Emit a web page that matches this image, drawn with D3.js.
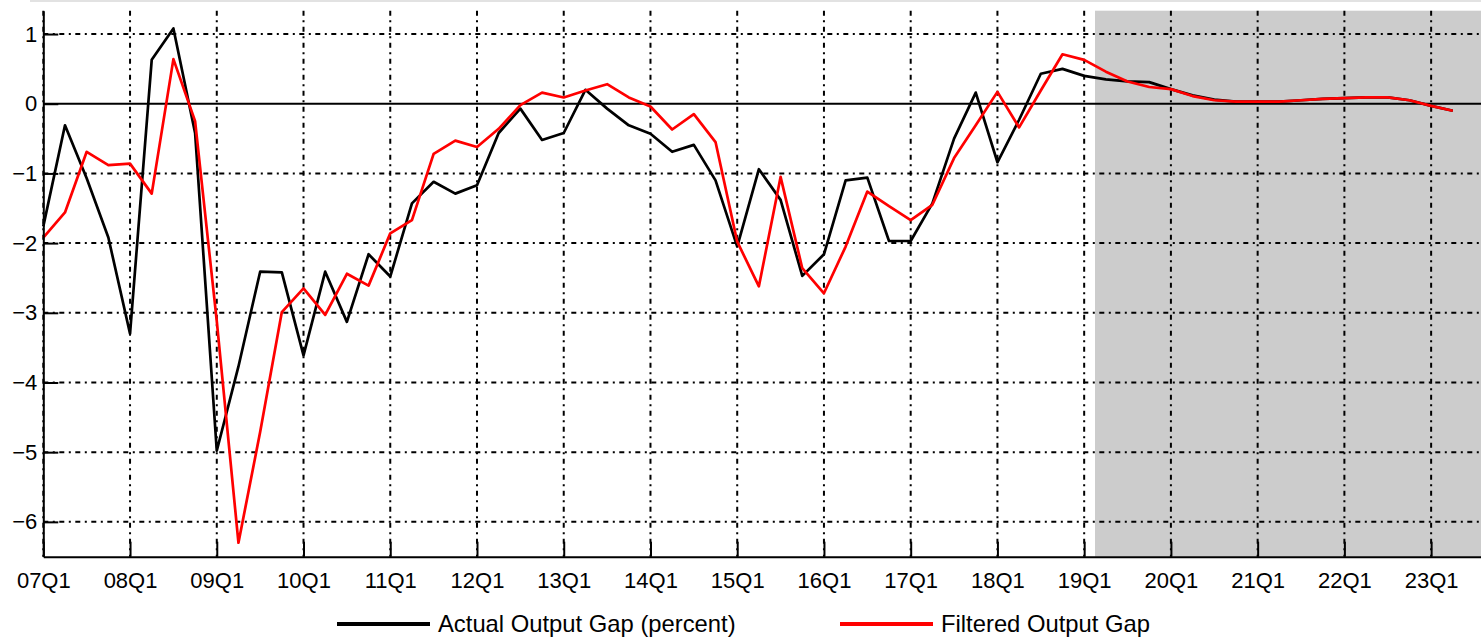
<!DOCTYPE html>
<html>
<head>
<meta charset="utf-8">
<script src="https://cdn.jsdelivr.net/npm/d3@7"></script>
<style>
  body { margin: 0; background: #fff; }
  svg text { font-family: "Liberation Sans", Arial, sans-serif; fill: #000; }
</style>
</head>
<body>
<svg class="s2" width="1481" height="639"></svg>
<script>

// year tick labels, one per Q1
var tickLabels = ["07Q1","08Q1","09Q1","10Q1","11Q1","12Q1","13Q1","14Q1","15Q1",
                  "16Q1","17Q1","18Q1","19Q1","20Q1","21Q1","22Q1","23Q1"];

var yTicks = [1, 0, -1, -2, -3, -4, -5, -6];

// quarterly values starting at 07Q1
var actualGap = [-1.76,-0.31,-1.07,-1.92,-3.30,0.63,1.08,-0.42,
                 -4.98,-3.77,-2.41,-2.42,-3.61,-2.41,-3.13,-2.16,
                 -2.48,-1.43,-1.12,-1.29,-1.17,-0.42,-0.07,-0.52,
                 -0.42,0.20,-0.07,-0.31,-0.43,-0.69,-0.59,-1.10,
                 -2.05,-0.94,-1.38,-2.47,-2.16,-1.10,-1.06,-1.97,
                 -1.97,-1.43,-0.50,0.16,-0.84,-0.23,0.43,0.50,
                 0.40,0.35,0.32,0.31,0.21,0.12,0.06,0.03,
                 0.03,0.03,0.05,0.07,0.08,0.09,0.09,0.05,
                 -0.03,-0.10];

var filteredGap = [-1.92,-1.56,-0.69,-0.88,-0.86,-1.29,0.64,-0.25,
                   -3.12,-6.30,-4.71,-2.99,-2.65,-3.03,-2.44,-2.61,
                   -1.86,-1.67,-0.72,-0.53,-0.62,-0.36,-0.02,0.16,
                   0.09,0.19,0.28,0.09,-0.04,-0.37,-0.15,-0.55,
                   -1.98,-2.62,-1.05,-2.36,-2.72,-2.05,-1.26,-1.47,
                   -1.67,-1.45,-0.78,-0.31,0.17,-0.34,0.19,0.71,
                   0.63,0.46,0.32,0.24,0.21,0.11,0.05,0.03,
                   0.03,0.03,0.05,0.07,0.08,0.09,0.09,0.05,
                   -0.03,-0.10];

var seriesNames = ["Actual Output Gap (percent)", "Filtered Output Gap"];
var seriesColors = ["#000000", "#ff0000"];

// projection starts half way into 19Q1
var shadeStart = 48.5;

var svg = d3.select("svg.s2"),
    plotLeft = 43.3, plotRight = 1481, plotTop = 10.7, plotBottom = 556.7;

var x = d3.scaleLinear().domain([0, 66.3]).range([plotLeft, plotRight]);
var y = d3.scaleLinear().domain([-6.5, 1.335]).range([plotBottom, plotTop]);

// faint frame line at top of the picture
svg.append("line")
    .attr("x1", 30).attr("x2", plotRight)
    .attr("y1", 1).attr("y2", 1)
    .style("stroke", "#e2e2e2").style("stroke-width", 2);

// shaded forecast area
svg.append("rect")
    .attr("x", x(shadeStart))
    .attr("y", plotTop)
    .attr("width", plotRight - x(shadeStart))
    .attr("height", plotBottom - plotTop)
    .style("fill", "#cccccc");

var g = svg.append("g");

// grid
g.selectAll(".vgrid")
    .data(tickLabels)
    .enter().append("line")
    .attr("class", "vgrid")
    .attr("x1", function(d, i) { return x(i * 4); })
    .attr("x2", function(d, i) { return x(i * 4); })
    .attr("y1", plotTop)
    .attr("y2", plotBottom)
    .style("stroke", "#000")
    .style("stroke-width", 2)
    .style("stroke-dasharray", "5,4.5,2,4.5");

g.selectAll(".hgrid")
    .data(yTicks.filter(function(d) { return d != 0; }))
    .enter().append("line")
    .attr("class", "hgrid")
    .attr("x1", plotLeft)
    .attr("x2", plotRight)
    .attr("y1", function(d) { return y(d); })
    .attr("y2", function(d) { return y(d); })
    .style("stroke", "#000")
    .style("stroke-width", 2)
    .style("stroke-dasharray", "5,4.5,2,4.5");

// zero line
g.append("line")
    .attr("x1", plotLeft).attr("x2", plotRight)
    .attr("y1", y(0)).attr("y2", y(0))
    .style("stroke", "#000").style("stroke-width", 1.8);

// axes
var xAxis = d3.axisBottom(x)
    .tickValues(tickLabels.map(function(d, i) { return i * 4; }))
    .tickFormat(function(d) { return tickLabels[d / 4]; })
    .tickSizeInner(-15)
    .tickSizeOuter(0)
    .tickPadding(16);

var yAxis = d3.axisLeft(y)
    .tickValues(yTicks)
    .tickSizeInner(-15)
    .tickSizeOuter(0)
    .tickPadding(6);

var gx = svg.append("g")
    .attr("transform", "translate(0," + plotBottom + ")")
    .call(xAxis);
gx.select(".domain").style("stroke-width", 2);
gx.selectAll(".tick line").style("stroke-width", 2);
gx.selectAll("text").style("font-size", "22px").attr("fill", "#000");

var gy = svg.append("g")
    .attr("transform", "translate(" + plotLeft + ",0)")
    .call(yAxis);
gy.select(".domain").style("stroke-width", 2);
gy.selectAll(".tick line").style("stroke-width", 2);
gy.selectAll("text").style("font-size", "22px").attr("fill", "#000");

// series lines
var line = d3.line()
    .x(function(d, i) { return x(i); })
    .y(function(d) { return y(d); });

[actualGap, filteredGap].forEach(function(s, k) {
  g.append("path")
    .datum(s)
    .attr("d", line)
    .style("fill", "none")
    .style("stroke", seriesColors[k])
    .style("stroke-width", 2.7)
    .style("stroke-linejoin", "round");
});

// legend
var legendX = [337, 840];
var legend = svg.selectAll(".legend")
    .data(seriesNames)
    .enter().append("g")
    .attr("class", "legend")
    .attr("transform", function(d, i) { return "translate(" + legendX[i] + ",624)"; });

legend.append("line")
    .attr("x1", 0).attr("x2", 93)
    .attr("y1", 0).attr("y2", 0)
    .style("stroke", function(d, i) { return seriesColors[i]; })
    .style("stroke-width", 4);

legend.append("text")
    .attr("x", 101)
    .attr("dy", "0.35em")
    .style("font-size", "23.8px")
    .text(function(d) { return d; });

</script>
</body>
</html>
